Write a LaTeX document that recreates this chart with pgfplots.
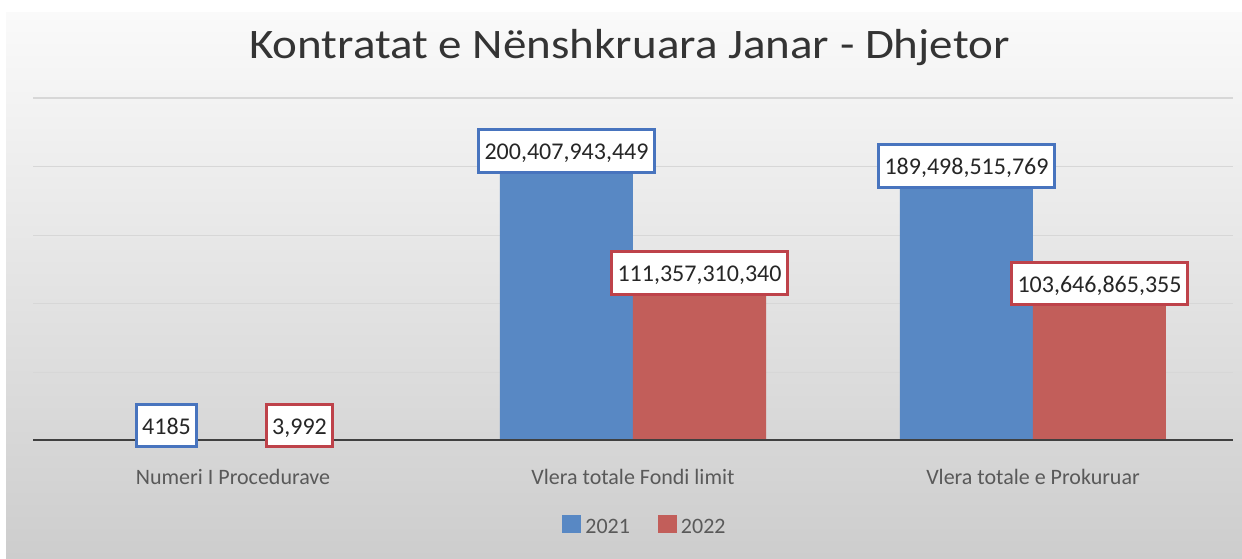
\documentclass[border=0pt]{standalone}
\usepackage{pgfplots}
\pgfplotsset{compat=1.18}
\usepackage{pgfplotstable}
\usepackage{graphicx}
\usepackage{fontspec}
\setmainfont{Carlito}
\definecolor{cblue}{RGB}{88,136,196}
\definecolor{cred}{RGB}{194,94,90}
\definecolor{bblue}{RGB}{72,116,190}
\definecolor{bred}{RGB}{190,66,74}
\definecolor{bgtop}{RGB}{250,250,250}
\definecolor{bgbot}{RGB}{205,205,205}
\definecolor{txtgray}{RGB}{89,89,89}
\definecolor{titlegray}{RGB}{52,52,52}
\definecolor{gridgray}{RGB}{215,215,215}

\pgfplotstableread{
x y lbl
0 4185 4185
1 200407943449 200,407,943,449
2 189498515769 189,498,515,769
}\dataA
\pgfplotstableread{
x y lbl
0 3992 3,992
1 111357310340 111,357,310,340
2 103646865355 103,646,865,355
}\dataB

\begin{document}
\begin{tikzpicture}
\path[use as bounding box] (0,0) rectangle (1242pt,559pt);
\fill[white] (0,0) rectangle (1242pt,559pt);
\shade[top color=bgtop, bottom color=bgbot] (6pt,0) rectangle (1242pt,546pt);
\begin{axis}[
  at={(33pt,118pt)}, anchor=south west,
  scale only axis, width=1200pt, height=343pt,
  xmin=-0.5, xmax=2.5, ymin=0, ymax=250e9,
  ybar=0pt, bar width=133pt,
  axis x line*=bottom, axis y line*=left,
  axis line style={draw=none},
  tick style={draw=none},
  scaled y ticks=false,
  ytick={0,50e9,100e9,150e9,200e9,250e9},
  yticklabels={},
  ymajorgrids,
  major grid style={gridgray, line width=1.2pt},
  xtick={0,1,2},
  xticklabels={Numeri I Procedurave, Vlera totale Fondi limit, Vlera totale e Prokuruar},
  xticklabel style={anchor=base, yshift=-39pt, font=\fontsize{22}{25}\selectfont, text=txtgray},
  title={\scalebox{1.12}[1]{Kontratat e Nënshkruara Janar - Dhjetor}},
  title style={at={(0.497,1.097)}, anchor=base, font=\fontsize{42}{48}\selectfont, text=titlegray},
  nodes near coords,
  point meta=explicit symbolic,
  every node near coord/.append style={anchor=south, yshift=-7.5pt, fill=white, line width=3pt,
     font=\fontsize{24}{28}\selectfont, text=black!85, inner xsep=6pt, inner ysep=8pt,
     text height=22pt, text depth=4.5pt},
  legend style={at={(0.51,-0.248)}, anchor=center, draw=none, fill=none, legend columns=2,
     font=\fontsize{22}{24}\selectfont, text=txtgray,
     /tikz/every odd column/.append style={column sep=2pt},
     /tikz/every even column/.append style={column sep=26pt}},
  legend image code/.code={\fill[#1] (0pt,-6pt) rectangle (19pt,12pt);},
]
\addplot[fill=cblue, draw=none, every node near coord/.append style={draw=bblue}] table[x=x, y=y, meta=lbl] {\dataA};
\addplot[fill=cred, draw=none, every node near coord/.append style={draw=bred}] table[x=x, y=y, meta=lbl] {\dataB};
\legend{2021, 2022}
\draw[line width=3pt, black!75] (axis cs:-0.5,0) -- (axis cs:2.5,0);
\end{axis}
\end{tikzpicture}
\end{document}
